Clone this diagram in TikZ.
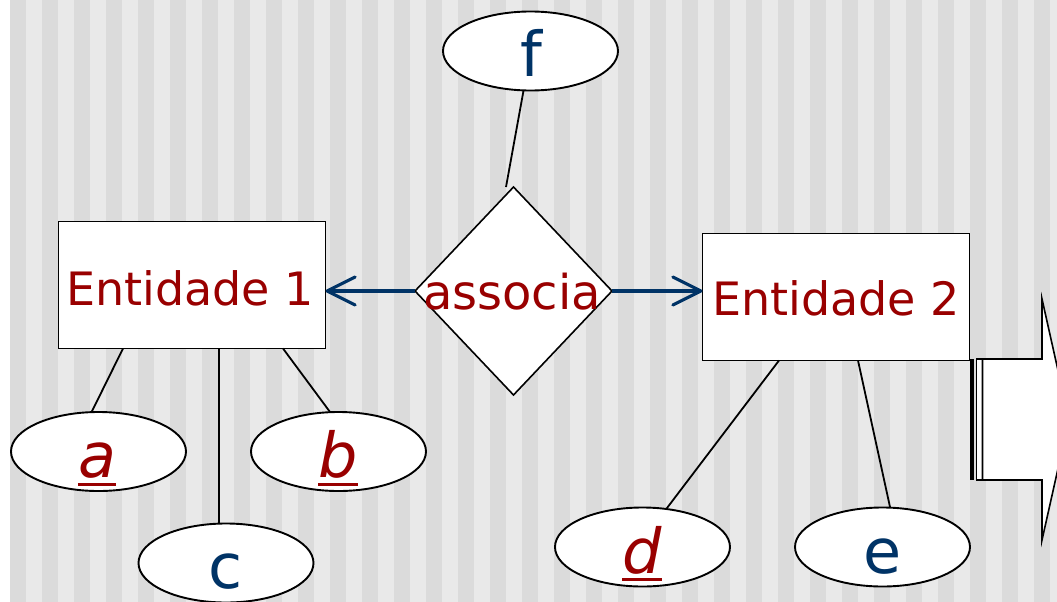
\documentclass[tikz,border=0pt]{standalone}
\usepackage{fontspec}
\setmainfont{DejaVu Sans}
\usetikzlibrary{shapes.geometric,arrows.meta}
\definecolor{stripeA}{RGB}{219,219,219}
\definecolor{stripeB}{RGB}{233,233,233}
\definecolor{ered}{RGB}{153,0,0}
\definecolor{eblue}{RGB}{0,51,102}
\begin{document}
\begin{tikzpicture}[x=1pt,y=-1pt,
  entity/.style={draw=black,fill=white,line width=1.6pt,minimum width=267pt,minimum height=127pt,inner sep=0pt,outer sep=0pt},
  attr/.style={ellipse,draw=black,fill=white,line width=1.9pt,minimum width=175pt,minimum height=79pt,inner sep=0pt,outer sep=0pt},
  rel/.style={diamond,draw=black,fill=white,line width=1.6pt,minimum width=197pt,minimum height=208pt,inner sep=0pt,outer sep=0pt},
  link/.style={draw=black,line width=1.8pt},
  card/.style={draw=eblue,line width=3.2pt,-{Straight Barb[length=28pt,width=28pt,round]}},
  etext/.style={text=ered,font=\fontsize{46}{46}\selectfont,anchor=base,inner sep=0pt},
  rtext/.style={text=ered,font=\fontsize{48}{48}\selectfont,anchor=base,inner sep=0pt},
  keytext/.style={text=ered,font=\fontsize{62}{62}\selectfont\itshape,anchor=base,inner sep=0pt},
  atext/.style={text=eblue,font=\fontsize{62}{62}\selectfont,anchor=base,inner sep=0pt},
  uline/.style={draw=ered,line width=3pt},
  stripebox/.style={draw=black,fill=white,line width=1.6pt,line join=miter}
]
\useasboundingbox (0,0) rectangle (1057,602);
\clip (0,0) rectangle (1057,602);
\fill[white] (0,0) rectangle (1057,602);
\foreach \k in {0,...,32} {
  \fill[stripeA] (10+32*\k,0) rectangle (26+32*\k,602);
  \fill[stripeB] (26+32*\k,0) rectangle (42+32*\k,602);
}

% shapes
\node[entity] (e1) at (192,285) {};
\node[entity] (e2) at (836,297) {};
\node[rel] (r) at (513.5,291) {};
\node[attr] (a) at (98.5,451.5) {};
\node[attr] (b) at (338.5,451.5) {};
\node[attr] (c) at (226,563) {};
\node[attr] (d) at (642.5,547) {};
\node[attr] (e) at (882.5,547) {};
\node[attr] (f) at (530.5,51) {};

% attribute links
\draw[link] ([xshift=64.5pt]e1.south west) -- (a.100);
\draw[link] ([xshift=224.5pt]e1.south west) -- (b.102);
\draw[link] ([xshift=160.5pt]e1.south west) -- (c.100);
\draw[link] ([xshift=76.5pt]e2.south west) -- (d.58);
\draw[link] ([xshift=155.5pt]e2.south west) -- (e.79);
\draw[link] (f.260) -- ([xshift=-7.5pt]r.north);

% cardinality arrows
\draw[card] (r.west) -- (e1.east |- r.west);
\draw[card] (r.east) -- (e2.west |- r.east);

% striped right arrow
\fill[black] (969.5,359) rectangle (973.5,480);
\draw[stripebox] (976.5,359) rectangle (982.5,480);
\draw[stripebox] (982.5,359) -- (1042,359) -- (1042,299) -- (1069,419.5) -- (1042,540) -- (1042,480) -- (982.5,480) -- cycle;

% texts
\node[etext] (t1) at (190,305) {Entidade 1};
\node[etext] (t2) at (836,315) {Entidade 2};
\node[rtext] (tr) at (512,309) {associa};
\node[keytext] (ta) at (97,477) {a};
\node[keytext] (tb) at (338,477) {b};
\node[atext] (tc) at (226,588) {c};
\node[keytext] (td) at (642,573) {d};
\node[atext] (te) at (883,573) {e};
\node[atext] (tf) at (531,76) {f};
\draw[uline] ([yshift=-7pt]ta.base west) -- ([yshift=-7pt]ta.base east);
\draw[uline] ([yshift=-7pt]tb.base west) -- ([yshift=-7pt]tb.base east);
\draw[uline] ([yshift=-6pt]td.base west) -- ([yshift=-6pt]td.base east);
\end{tikzpicture}
\end{document}
